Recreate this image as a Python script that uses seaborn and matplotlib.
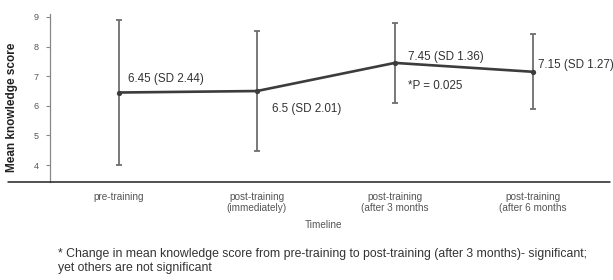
import pandas as pd
import numpy as np
import seaborn as sns
import matplotlib.pyplot as plt
from matplotlib.lines import Line2D

# data
timeline = ['pre-training', 'post-training\n(immediately)',
            'post-training\n(after 3 months', 'post-training\n(after 6 months']
mean_score = [6.45, 6.5, 7.45, 7.15]
sd_score = [2.44, 2.01, 1.36, 1.27]
point_labels = ['6.45 (SD 2.44)', '6.5 (SD 2.01)', '7.45 (SD 1.36)', '7.15 (SD 1.27)']

df = pd.DataFrame({'timeline': timeline, 'mean': mean_score, 'sd': sd_score})

sns.set_style('white')
plt.rcParams['font.family'] = ['Liberation Sans', 'DejaVu Sans']

fig = plt.figure(figsize=(6.13, 2.8), dpi=100)
ax = fig.add_axes([0.0816, 0.35, 0.9, 0.6])

# error bars (SD)
ax.errorbar(np.arange(len(df)), df['mean'], yerr=df['sd'], fmt='none',
            ecolor='#6e6e6e', elinewidth=1.3, capsize=2.5, capthick=1.3, zorder=2)
sns.lineplot(data=df, x=np.arange(len(df)), y='mean', color='#3c3c3c',
             linewidth=1.9, marker='o', markersize=3.8, markeredgewidth=0, ax=ax, zorder=3)

# value labels
offsets = [(6.5, 10), (11, -13), (9.4, 4), (4, 5)]
for i, (lab, off) in enumerate(zip(point_labels, offsets)):
    ax.annotate(lab, (i, df['mean'][i]), xytext=off, textcoords='offset points',
                fontsize=8.4, color='#333333', va='center', ha='left')
ax.annotate('*P = 0.025', (2, df['mean'][2]), xytext=(9.4, -16.5), textcoords='offset points',
            fontsize=8.4, color='#333333', va='center', ha='left')

ax.set_xlim(-0.5, 3.5)
ax.set_ylim(3.43, 9.1)
ax.set_yticks([4, 5, 6, 7, 8, 9])
ax.set_xticks(range(len(df)))
ax.set_xticklabels(timeline, fontsize=7.2, color='#555555')
ax.tick_params(axis='y', labelsize=6.5, labelcolor='#555555', length=3,
               color='#888888', left=True, width=0.8, pad=5)
ax.tick_params(axis='x', length=0, pad=7)
ax.set_xlabel('')
ax.set_ylabel('Mean knowledge score', fontsize=8.5, fontweight='bold', color='#222222')
ax.yaxis.set_label_coords(-0.058, 0.443)

for s in ['top', 'right', 'bottom']:
    ax.spines[s].set_visible(False)
ax.spines['left'].set_color('#888888')
ax.spines['left'].set_linewidth(0.9)

# long baseline across the figure
fig.add_artist(Line2D([0.013, 0.995], [0.35, 0.35], color='#222222', linewidth=1.1))

fig.text(0.527, 0.196, 'Timeline', fontsize=7.2, color='#555555', ha='center', va='center')

fig.text(0.095, 0.068, '* Change in mean knowledge score from pre-training to post-training '
         '(after 3 months)- significant;\nyet others are not significant',
         fontsize=8.8, color='#333333', va='center', ha='left', linespacing=1.25)

fig.savefig('out.png', dpi=100)
